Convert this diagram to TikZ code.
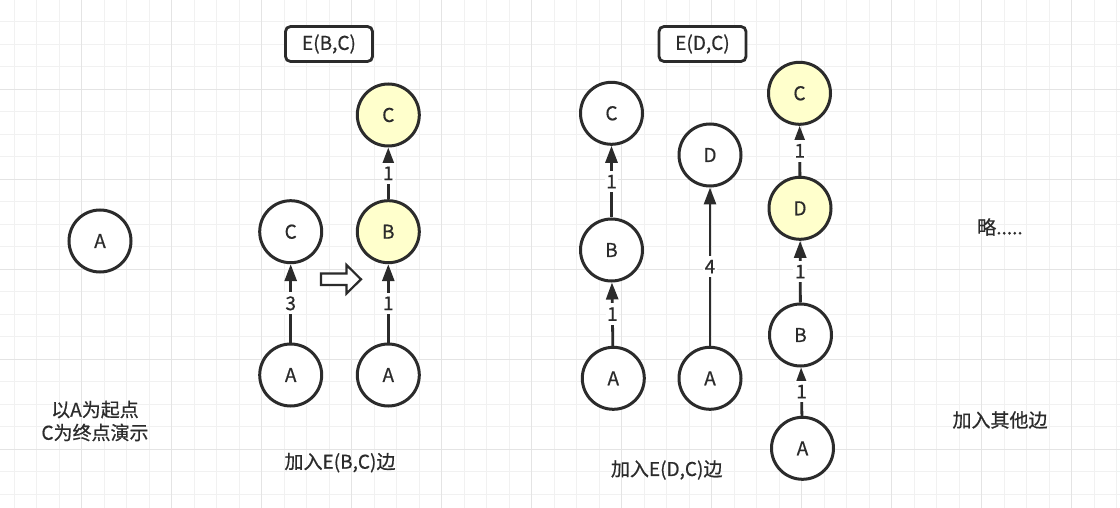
\documentclass[tikz,border=0pt]{standalone}
\usepackage{fontspec}
\setmainfont{Noto Sans CJK SC}[BoldFont=Noto Sans CJK SC, BoldFeatures={FakeBold=0.6}]
\usetikzlibrary{arrows.meta}
\definecolor{ink}{HTML}{2B2B2B}
\definecolor{hl}{HTML}{FFFFCC}
\definecolor{gridminor}{HTML}{F1F1F1}
\definecolor{gridmajor}{HTML}{E4E4E4}
\begin{document}
\begin{tikzpicture}[x=1pt,y=-1pt,
  vtx/.style={circle, draw=ink, line width=3pt, minimum size=62pt, inner sep=0pt, fill=white, text=ink, font=\fontsize{19}{23}\selectfont\bfseries},
  hot/.style={vtx, fill=hl},
  edge/.style={draw=ink, line width=2.8pt, -{Triangle[length=17pt,width=12pt]}},
  wt/.style={fill=white, inner xsep=1.5pt, inner ysep=4pt, text=ink, font=\fontsize{19}{23}\selectfont\bfseries},
  tagbox/.style={draw=ink, rounded corners=5pt, line width=2.8pt, minimum width=87pt, minimum height=35pt, fill=white, text=ink, font=\fontsize{19}{23}\selectfont\bfseries},
  txt/.style={text=ink, align=center, font=\fontsize{19}{23}\selectfont\bfseries},
  minorline/.style={draw=gridminor, line width=1.2pt},
  majorline/.style={draw=gridmajor, line width=1.5pt},
  hollow/.style={draw=ink, line width=2.2pt, fill=white, line join=miter}]
\useasboundingbox (0,0) rectangle (1120,508);
\fill[white] (0,0) rectangle (1120,508);
% grid
\foreach \i in {0,...,49} {\draw[minorline] ({14.2+22.5*\i},0) -- ({14.2+22.5*\i},508);}
\foreach \j in {0,...,22} {\draw[minorline] (0,{-0.7+22.5*\j}) -- (1120,{-0.7+22.5*\j});}
\foreach \i in {0,...,11} {\draw[majorline] ({81.7+90*\i},0) -- ({81.7+90*\i},508);}
\foreach \j in {0,...,5} {\draw[majorline] (0,{89.3+90*\j}) -- (1120,{89.3+90*\j});}

% start
\node[vtx] (a0) at (100,241) {A};
\node[txt] (t0) at (95,421) {以A为起点\\C为终点演示};

% group 1
\node[tagbox] (tag1) at (329,44) {E(B,C)};
\node[vtx] (c1) at (290.7,231.7) {C};
\node[vtx] (a1) at (290.7,375) {A};
\node[hot] (c2) at (388.3,115) {C};
\node[hot] (b2) at (388.3,231.7) {B};
\node[vtx] (a2) at (388.3,375) {A};
\draw[edge] (a1) -- node[wt] {3} (c1);
\draw[edge] (a2) -- node[wt] {1} (b2);
\draw[edge] (b2) -- node[wt] {1} (c2);
\draw[hollow] (321,273.5) -- (346.5,273.5) -- (346.5,265) -- (361,279.3) -- (346.5,293.5) -- (346.5,285) -- (321,285) -- cycle;
\node[txt] (t1) at (340,462.7) {加入E(B,C)边};

% group 2
\node[tagbox] (tag2) at (702.5,44) {E(D,C)};
\node[vtx] (c3) at (611.5,113.3) {C};
\node[vtx] (b3) at (611.5,250) {B};
\node[vtx] (a3) at (613.3,378.3) {A};
\draw[edge] (a3) -- node[wt] {1} (b3);
\draw[edge] (b3) -- node[wt] {1} (c3);
\node[vtx] (d4) at (710,155) {D};
\node[vtx] (a4) at (710,378.3) {A};
\draw[edge] (a4) -- node[wt] {4} (d4);
\node[hot] (c5) at (799.5,93.3) {C};
\node[hot] (d5) at (800,208.3) {D};
\node[vtx] (b5) at (800.5,335) {B};
\node[vtx] (a5) at (802.5,448.3) {A};
\draw[edge] (d5) -- node[wt] {1} (c5);
\draw[edge] (b5) -- node[wt] {1} (d5);
\draw[edge] (a5) -- node[wt] {1} (b5);
\node[txt] (t2) at (666.7,470) {加入E(D,C)边};

% rest
\node[txt] (t3) at (1000,227) {略.....};
\node[txt] (t4) at (1000,420) {加入其他边};
\end{tikzpicture}
\end{document}
